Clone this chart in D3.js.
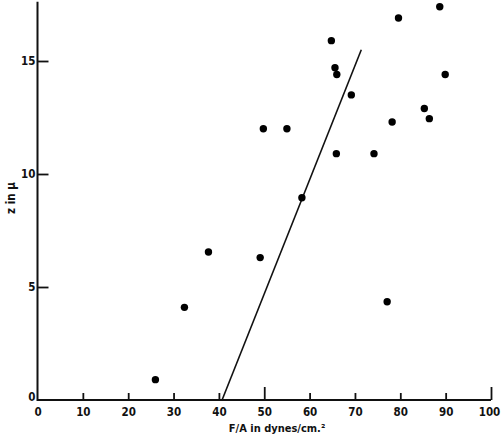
<!DOCTYPE html>
<html>
<head>
<meta charset="utf-8">
<script src="https://cdn.jsdelivr.net/npm/d3@7"></script>
<style>
  html, body { margin: 0; padding: 0; background: #fff; }
  svg { display: block; }
  text { font-family: "DejaVu Sans Condensed", "Liberation Sans Narrow", sans-serif; fill: #111; }
</style>
</head>
<body>
<svg id="chart" width="501" height="436"></svg>
<script>
// Data
const forceValues = [26.0, 32.4, 37.7, 49.1, 49.8, 55.0, 58.3, 64.8, 65.6, 66.0, 65.9, 69.2, 74.2, 77.1, 78.2, 79.6, 85.3, 86.4, 88.7, 89.9];
const zValues     = [0.9, 4.1, 6.55, 6.3, 12.0, 12.0, 8.95, 15.9, 14.7, 14.4, 10.9, 13.5, 10.9, 4.35, 12.3, 16.9, 12.9, 12.45, 17.4, 14.4];
const fitLineX = [40.7, 71.4];
const fitLineZ = [0, 15.5];
const xTicks = [0, 10, 20, 30, 40, 50, 60, 70, 80, 90, 100];
const yTicks = [0, 5, 10, 15];
const xTitle = "F/A in dynes/cm.\u00B2";
const yTitle = "z  in \u03BC";

const svg = d3.select("#chart");
const x = d3.scaleLinear().domain([0, 100]).range([37.5, 491]);
const y = d3.scaleLinear().domain([0, 15]).range([400, 61]);
const yTop = 17.62;

// axes lines
svg.append("line").attr("x1", x(0)).attr("x2", x(100)).attr("y1", y(0)).attr("y2", y(0))
  .attr("stroke", "#111").attr("stroke-width", 2);
svg.append("line").attr("x1", x(0)).attr("x2", x(0)).attr("y1", y(0) + 1).attr("y2", y(yTop))
  .attr("stroke", "#111").attr("stroke-width", 2);

// x axis
const gx = svg.append("g").attr("transform", `translate(0,${y(0)})`)
  .call(d3.axisBottom(x).tickValues(xTicks).tickSize(-7).tickPadding(8).tickFormat(d3.format("d")));
gx.select(".domain").remove();
gx.selectAll(".tick line").attr("stroke", "#111").attr("stroke-width", 1.8)
  .attr("y2", d => (d === 50 || d === 100) ? -13 : -7);
gx.selectAll(".tick").filter(d => d === 0).select("line").remove();
gx.selectAll(".tick text").attr("font-size", 11.5).attr("font-weight", "bold").attr("fill", "#111")
  .attr("font-family", "DejaVu Sans Condensed, sans-serif")
  .attr("dx", d => d === 100 ? -2 : 0);

// y axis
const gy = svg.append("g").attr("transform", `translate(${x(0)},0)`)
  .call(d3.axisRight(y).tickValues(yTicks).tickSize(11).tickFormat(d3.format("d")));
gy.select(".domain").remove();
gy.selectAll(".tick line").attr("stroke", "#111").attr("stroke-width", 1.8);
gy.selectAll(".tick").filter(d => d === 0).select("line").remove();
gy.selectAll(".tick text").attr("x", -2).attr("text-anchor", "end")
  .attr("font-size", 11.5).attr("font-weight", "bold").attr("fill", "#111")
  .attr("font-family", "DejaVu Sans Condensed, sans-serif")
  .attr("dy", d => d === 0 ? "0.0em" : "0.32em");

// titles
svg.append("text").attr("x", 277).attr("y", 432).attr("text-anchor", "middle")
  .attr("font-size", 11).attr("font-weight", "bold").text(xTitle);
svg.append("text").attr("transform", "translate(15,198) rotate(-90)").attr("text-anchor", "middle")
  .attr("font-size", 11.5).attr("font-weight", "bold").text(yTitle);

// regression line
svg.append("line")
  .attr("x1", x(fitLineX[0])).attr("y1", y(fitLineZ[0]))
  .attr("x2", x(fitLineX[1])).attr("y2", y(fitLineZ[1]))
  .attr("stroke", "#111").attr("stroke-width", 1.6);

// points
svg.append("g").selectAll("circle").data(forceValues.map((f, i) => [f, zValues[i]]))
  .join("circle")
  .attr("cx", d => x(d[0])).attr("cy", d => y(d[1])).attr("r", 3.7).attr("fill", "#000");
</script>
</body>
</html>
